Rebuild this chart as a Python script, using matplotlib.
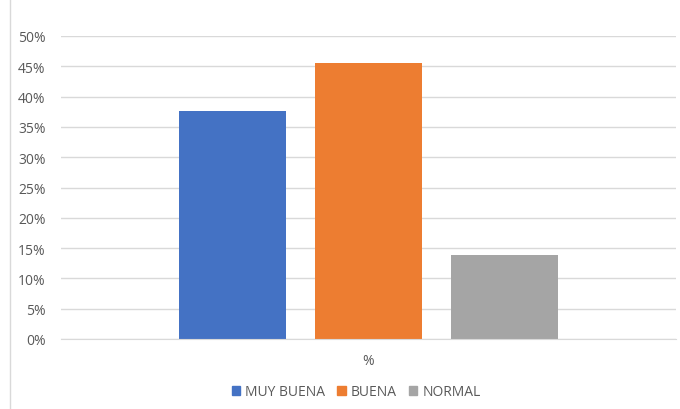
import numpy as np
import matplotlib
matplotlib.use("Agg")
import matplotlib.pyplot as plt
from matplotlib.lines import Line2D
from matplotlib.patches import Patch
from matplotlib.ticker import PercentFormatter

# data
series = ["MUY BUENA", "BUENA", "NORMAL"]
values = [0.377, 0.455, 0.139]
colors = ["#4472C4", "#ED7D31", "#A5A5A5"]
category = "%"

plt.rcParams['font.family'] = ['Open Sans', 'DejaVu Sans']
text_color = "#595959"

fig = plt.figure(figsize=(6.8, 4.1), dpi=100)
ax = fig.add_axes([61/680, 1 - 340/410, 615/680, 303/410])

offsets = [-0.2211, 0.0, 0.2211]
width = 0.174
for name, v, c, off in zip(series, values, colors, offsets):
    ax.bar(0 + off, v, width=width, color=c, label=name, zorder=3)

ax.set_xlim(-0.5, 0.5)
ax.set_ylim(0, 0.5)
ax.set_yticks(np.arange(0, 0.501, 0.05))
ax.yaxis.set_major_formatter(PercentFormatter(1.0, decimals=0))
ax.set_xticks([0])
ax.set_xticklabels([category])
ax.tick_params(axis='x', length=0, pad=10, colors=text_color, labelsize=10)
ax.tick_params(axis='y', length=0, pad=11, colors=text_color, labelsize=10)

ax.grid(axis='y', color="#D9D9D9", linewidth=1, zorder=0)
for s in ["top", "right", "left"]:
    ax.spines[s].set_visible(False)
ax.spines["bottom"].set_color("#D9D9D9")
ax.spines["bottom"].set_zorder(4)

handles = [Patch(color=c, label=n) for n, c in zip(series, colors)]
leg = fig.legend(handles=handles, loc="center", bbox_to_anchor=(356/680, 1 - 393/410),
                 ncol=3, frameon=False, handlelength=0.6, handleheight=0.6,
                 handletextpad=0.35, columnspacing=0.9, fontsize=10)
for t in leg.get_texts():
    t.set_color(text_color)

# chart border on the left
fig.add_artist(Line2D([10/680, 10/680], [0, 1], color="#D9D9D9", linewidth=1))

fig.savefig("out.png", dpi=100)
plt.close(fig)
